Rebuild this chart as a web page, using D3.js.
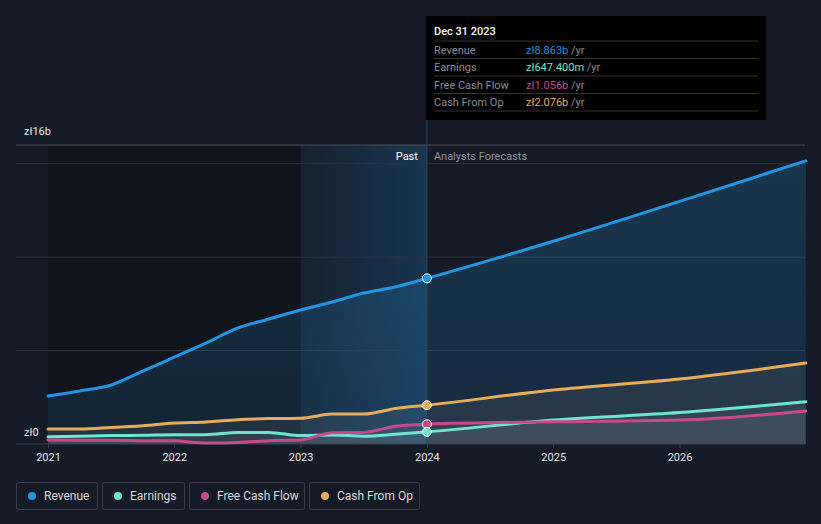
<!DOCTYPE html>
<html><head><meta charset="utf-8">
<script src="https://cdn.jsdelivr.net/npm/d3@7/dist/d3.min.js"></script>
<style>
html,body{margin:0;padding:0;background:#151b26;}
svg{display:block;font-family:Roboto,"Noto Sans",sans-serif;}
</style></head><body>
<svg id="c" width="821" height="524"></svg>
<script>
// ---- data (values in billions zł) ----
const pastDates = [2021.0,2021.25,2021.5,2021.75,2022.0,2022.25,2022.5,2022.75,2023.0,2023.25,2023.5,2023.75,2024.0];
const revenuePast  = [2.57,2.84,3.16,3.90,4.65,5.40,6.20,6.69,7.17,7.60,8.08,8.40,8.863];
const earningsPast = [0.39,0.42,0.45,0.47,0.50,0.50,0.62,0.62,0.45,0.48,0.42,0.52,0.6474];
const fcfPast      = [0.21,0.20,0.20,0.18,0.17,0.05,0.08,0.18,0.22,0.60,0.62,0.95,1.056];
const cfoPast      = [0.80,0.80,0.88,0.98,1.12,1.18,1.30,1.36,1.38,1.60,1.60,1.90,2.076];
const fcDates = [2024.0,2025.0,2026.0,2027.0];
const revenueFc  = [8.863,10.85,12.98,15.15];
const earningsFc = [0.6474,1.28,1.68,2.26];
const fcfFc      = [1.056,1.19,1.28,1.77];
const cfoFc      = [2.076,2.89,3.48,4.33];
const xTicks = [2021,2022,2023,2024,2025,2026];
const gridVals = [5,10,15,16];
const seriesNames = ["Revenue","Earnings","Free Cash Flow","Cash From Op"];
const seriesColors = ["#2394df","#6ee5cf","#c9488a","#e8ac5a"];
const tipValues = ["zł8.863b","zł647.400m","zł1.056b","zł2.076b"];
const tipDate = "Dec 31 2023";

const svg = d3.select("#c");
const x = d3.scaleLinear().domain([2021,2027]).range([48,805.8]);
const y = d3.scaleLinear().domain([0,16]).range([444,145]);
const nowX = x(2024);

const defs = svg.append("defs");
const hg = defs.append("linearGradient").attr("id","hl").attr("x1",0).attr("x2",1).attr("y1",0).attr("y2",0);
hg.append("stop").attr("offset","0%").attr("stop-color","#2394df").attr("stop-opacity",0.06);
hg.append("stop").attr("offset","100%").attr("stop-color","#2394df").attr("stop-opacity",0.22);
const rg = defs.append("linearGradient").attr("id","revfill").attr("x1",0).attr("x2",0).attr("y1",0).attr("y2",1);
rg.append("stop").attr("offset","0%").attr("stop-color","#2394df").attr("stop-opacity",0.22);
rg.append("stop").attr("offset","100%").attr("stop-color","#2394df").attr("stop-opacity",0.12);

// past dark region
svg.append("rect").attr("x",x(2021)).attr("y",y(16)).attr("width",x(2023)-x(2021)).attr("height",y(0)-y(16))
  .attr("fill","#000").attr("opacity",0.22);
// highlight band
svg.append("rect").attr("x",x(2023)).attr("y",y(16)).attr("width",nowX-x(2023)).attr("height",y(0)-y(16))
  .attr("fill","url(#hl)");

// gridlines
gridVals.forEach(v=>{
  svg.append("line").attr("x1",16).attr("x2",805).attr("y1",y(v)).attr("y2",y(v))
    .attr("stroke", v===16 ? "#4a4f5a" : "#2c323d").attr("stroke-width",1);
});

const allDates = pastDates.concat(fcDates.slice(1));
function join(p,f){return p.concat(f.slice(1));}
const seriesData = [
  join(revenuePast,revenueFc),
  join(earningsPast,earningsFc),
  join(fcfPast,fcfFc),
  join(cfoPast,cfoFc)
].map(arr=>arr.map((v,i)=>({t:allDates[i],v})));

const curve = d3.curveMonotoneX;
const area = d3.area().x(d=>x(d.t)).y0(y(0)).y1(d=>y(d.v)).curve(curve);
const line = d3.line().x(d=>x(d.t)).y(d=>y(d.v)).curve(curve);

// areas
svg.append("path").datum(seriesData[0]).attr("d",area).attr("fill","url(#revfill)");
[3,1,2].forEach(i=>{
  svg.append("path").datum(seriesData[i]).attr("d",area).attr("fill","#8a8f99").attr("opacity",0.13);
});

// baseline axis
svg.append("line").attr("x1",16).attr("x2",805).attr("y1",y(0)).attr("y2",y(0)).attr("stroke","#3a404b");

// lines
[3,1,2,0].forEach(i=>{
  svg.append("path").datum(seriesData[i]).attr("d",line).attr("fill","none")
    .attr("stroke",seriesColors[i]).attr("stroke-width",3).attr("stroke-linecap","round");
});

// vertical now line
svg.append("line").attr("x1",nowX).attr("x2",nowX).attr("y1",16).attr("y2",y(0))
  .attr("stroke","#24496b").attr("stroke-width",1);

// markers at now
[3,2,1,0].forEach(i=>{
  svg.append("circle").attr("cx",nowX).attr("cy",y(seriesData[i][pastDates.length-1].v)).attr("r",4.5)
    .attr("fill",seriesColors[i]).attr("stroke","#fff").attr("stroke-width",1);
});

// x axis
const xa = svg.append("g").attr("transform",`translate(0,${y(0)})`)
  .call(d3.axisBottom(x).tickValues(xTicks).tickFormat(d3.format("d")).tickSize(4).tickPadding(5));
xa.select(".domain").remove();
xa.selectAll("line").attr("stroke","#3a404b");
xa.selectAll("text").attr("fill","#e6e6e6").attr("font-size",11).attr("font-family","Roboto");

// y labels
svg.append("text").attr("x",24).attr("y",y(16)-10).text("zł16b").attr("fill","#e6e6e6").attr("font-size",11);
svg.append("text").attr("x",24).attr("y",y(0)-8).text("zł0").attr("fill","#e6e6e6").attr("font-size",11);

// past / forecast labels
svg.append("text").attr("x",nowX-9).attr("y",160).attr("text-anchor","end").text("Past").attr("fill","#ffffff").attr("font-size",11);
svg.append("text").attr("x",nowX+7).attr("y",160).text("Analysts Forecasts").attr("fill","#8c9099").attr("font-size",11);

// tooltip
const tip = svg.append("g");
tip.append("rect").attr("x",426).attr("y",16).attr("width",340).attr("height",104).attr("fill","#000");
tip.append("text").attr("x",434).attr("y",35).text(tipDate).attr("fill","#fff").attr("font-size",11).attr("font-weight",500);
seriesNames.forEach((n,i)=>{
  const ry = 41 + i*17.5;
  tip.append("line").attr("x1",434).attr("x2",758).attr("y1",ry).attr("y2",ry).attr("stroke","#333");
  tip.append("text").attr("x",434).attr("y",ry+12.5).text(n).attr("fill","#8a8d94").attr("font-size",11);
  const t = tip.append("text").attr("x",526).attr("y",ry+12.5).attr("font-size",11);
  t.append("tspan").text(tipValues[i]).attr("fill",seriesColors[i]);
  t.append("tspan").text(" /yr").attr("fill","#8a8d94");
});
tip.append("line").attr("x1",434).attr("x2",758).attr("y1",111).attr("y2",111).attr("stroke","#333");

// legend
const legW = [81,82,115,110];
let lx = 16;
seriesNames.forEach((n,i)=>{
  const g = svg.append("g");
  g.append("rect").attr("x",lx+0.5).attr("y",482.5).attr("width",legW[i]).attr("height",27).attr("rx",2)
    .attr("fill","none").attr("stroke","#3a3f49");
  g.append("circle").attr("cx",lx+16).attr("cy",496).attr("r",4).attr("fill",seriesColors[i]);
  g.append("text").attr("x",lx+28).attr("y",500).text(n).attr("fill","#d8d8d8").attr("font-size",12);
  lx += legW[i] + 5;
});
</script>
</body></html>
